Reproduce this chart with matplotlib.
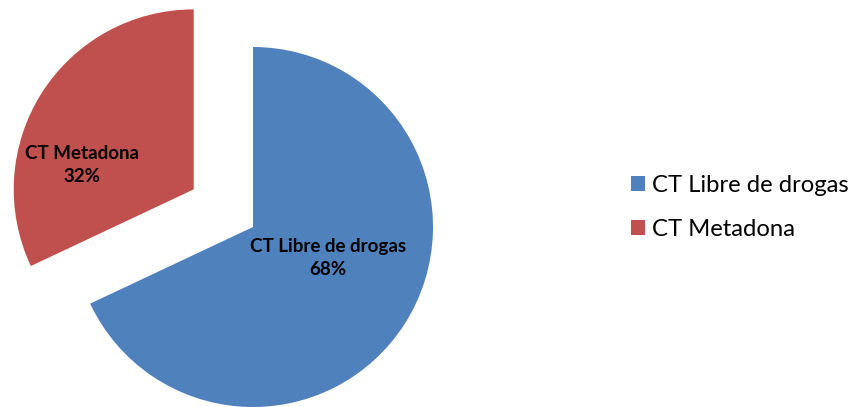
import matplotlib
matplotlib.use("Agg")
import matplotlib.pyplot as plt
from matplotlib.patches import Patch

categories = ["CT Libre de drogas", "CT Metadona"]
values = [68, 32]
colors = ["#4F81BD", "#C0504D"]
explode = [0.0, 0.39]

plt.rcParams['font.family'] = ['Lato', 'DejaVu Sans']

fig = plt.figure(figsize=(8.55, 4.07), dpi=100)
ax = fig.add_axes([0, 0, 1, 1])
wedges, _ = ax.pie(values, colors=colors, explode=explode, startangle=90,
                   counterclock=False, radius=1.0,
                   wedgeprops=dict(linewidth=0))
ax.set_xlim(-253/180, (855-253)/180)
ax.set_ylim(-180/180, 227/180)
ax.set_aspect('equal')
ax.axis('off')

label_pos = [(0.417, -0.172), (-0.622 - 0.328, 0.133 + 0.211)]
for cat, v, (x, y) in zip(categories, values, label_pos):
    ax.text(x, y, f"{cat}\n{v}%", ha='center', va='center', fontsize=13.5,
            fontweight='bold', color='black', linespacing=1.45)

handles = [Patch(facecolor=c, edgecolor='none') for c in colors]
fig.legend(handles, categories, loc='center left', bbox_to_anchor=(0.738, 0.49),
           frameon=False, fontsize=17.2, handlelength=0.6, handleheight=0.6,
           handletextpad=0.3, labelspacing=0.95, borderpad=0, borderaxespad=0)

fig.savefig("out.png", dpi=100)
